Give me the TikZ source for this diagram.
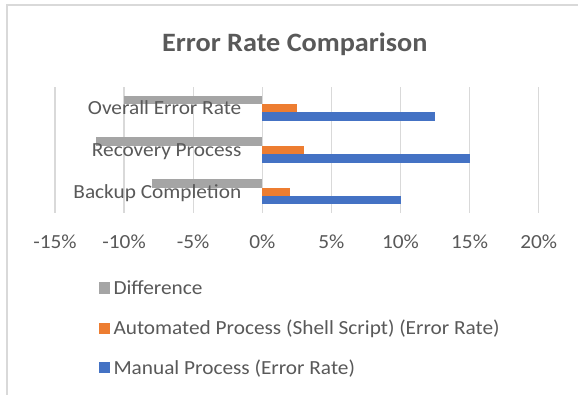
\documentclass[tikz,border=0pt]{standalone}
\usepackage{fontspec}
\setmainfont[FakeStretch=1.065]{Carlito}
\definecolor{txt}{HTML}{595959}
\definecolor{grid}{HTML}{D9D9D9}
\definecolor{sgray}{HTML}{A5A5A5}
\definecolor{sorange}{HTML}{ED7D31}
\definecolor{sblue}{HTML}{4472C4}
\tikzset{
  lbl/.style={inner sep=0pt, text=txt, font=\fontsize{20}{24}\selectfont},
  ttl/.style={inner sep=0pt, text=txt, font=\fontsize{26.5}{30}\selectfont\bfseries},
  gridline/.style={draw=grid, line width=1.3pt},
  frameline/.style={draw=grid, line width=2pt},
}
\begin{document}
\begin{tikzpicture}[x=1pt,y=-1pt]
\useasboundingbox (0,0) rectangle (578,395);
\fill[white] (0,0) rectangle (578,395);
% frame (top and left visible)
\draw[frameline] (578,5.3) -- (7,5.3) -- (7,395);
% title
\node[ttl, anchor=base] (title) at (294.8,51.7) {Error Rate Comparison};
% gridlines and tick labels
\foreach \k/\t in {-3/-15\%,-2/-10\%,-1/-5\%,0/0\%,1/5\%,2/10\%,3/15\%,4/20\%}{
  \draw[gridline] ({262.3+69.1*\k},87.3) -- ({262.3+69.1*\k},212.7);
  \node[lbl, anchor=base] (tick\k) at ({262.3+69.1*\k},248.3) {\t};
}
% bars
\foreach \yc/\d/\a/\m in {108.2/-10/2.5/12.5, 150/-12/3/15, 191.8/-8/2/10}{
  \fill[sgray] ({262.3+13.82*\d},{\yc-12.6}) rectangle (262.3,{\yc-4.2});
  \fill[sorange] (262.3,{\yc-4.2}) rectangle ({262.3+13.82*\a},{\yc+4.2});
  \fill[sblue] (262.3,{\yc+4.2}) rectangle ({262.3+13.82*\m},{\yc+12.6});
}
% category labels
\node[lbl, anchor=base east] (cat1) at (241.5,114.7) {Overall Error Rate};
\node[lbl, anchor=base east] (cat2) at (241.5,156.5) {Recovery Process};
\node[lbl, anchor=base east] (cat3) at (241.5,198.3) {Backup Completion};
% legend
\fill[sgray] (98.7,282.5) rectangle (109.5,293.5);
\node[lbl, anchor=base west] (leg1) at (113.3,294.3) {Difference};
\fill[sorange] (98.7,322.7) rectangle (109.5,333.7);
\node[lbl, anchor=base west] (leg2) at (113.3,334.3) {Automated Process (Shell Script) (Error Rate)};
\fill[sblue] (98.7,362.3) rectangle (109.5,373.3);
\node[lbl, anchor=base west] (leg3) at (113.3,374) {Manual Process (Error Rate)};
\end{tikzpicture}
\end{document}
